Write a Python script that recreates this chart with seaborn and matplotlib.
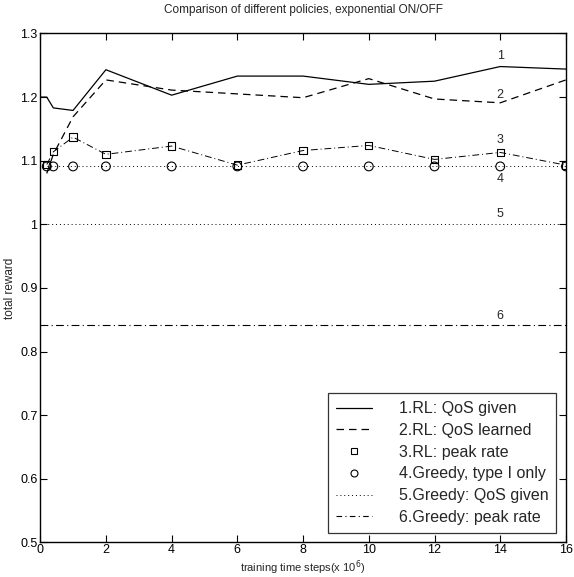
import numpy as np
import pandas as pd
import seaborn as sns
import matplotlib.pyplot as plt
from matplotlib.lines import Line2D

# training steps (x 10^6)
steps = [0.2, 0.4, 1, 2, 4, 6, 8, 10, 12, 14, 16]
steps_rl1 = [0, 0.2, 0.4, 1, 2, 4, 6, 8, 10, 12, 14, 16]

rl_qos_given = [1.200, 1.200, 1.183, 1.179, 1.243, 1.203, 1.233, 1.233, 1.220, 1.225, 1.248, 1.244]
rl_qos_learned = [1.080, 1.110, 1.169, 1.227, 1.211, 1.205, 1.199, 1.229, 1.197, 1.191, 1.227]
rl_peak_rate = [1.094, 1.114, 1.137, 1.110, 1.123, 1.093, 1.116, 1.124, 1.102, 1.113, 1.093]
greedy_type1 = [1.091] * len(steps)
greedy_qos_given = 1.0
greedy_peak_rate = 0.842

x_range = [0, 16]
labels = ["1.RL: QoS given", "2.RL: QoS learned", "3.RL: peak rate",
          "4.Greedy, type I only", "5.Greedy: QoS given", "6.Greedy: peak rate"]
curve_tags = ["1", "2", "3", "4", "5", "6"]
tag_y = [1.265, 1.203, 1.132, 1.072, 1.016, 0.856]

sns.set_style("ticks")
plt.rcParams['font.family'] = ['Liberation Sans', 'DejaVu Sans']

fig = plt.figure(figsize=(5.74, 5.77), dpi=100)
ax = fig.add_axes([0.070, 0.060, 0.916, 0.882])

lw = 0.9
# curves
sns.lineplot(x=steps_rl1, y=rl_qos_given, color='k', lw=lw, ax=ax)
sns.lineplot(x=steps, y=rl_qos_learned, color='k', lw=lw, ax=ax, linestyle=(0, (6, 4)))
sns.lineplot(x=steps, y=rl_peak_rate, color='k', lw=0.7, ax=ax, linestyle=(0, (7, 3, 1, 3)))
sns.lineplot(x=steps, y=greedy_type1, color='k', lw=0.7, ax=ax, linestyle=(0, (1, 3)))
sns.lineplot(x=x_range, y=[greedy_qos_given] * 2, color='k', lw=0.7, ax=ax, linestyle=(0, (1, 3)))
sns.lineplot(x=x_range, y=[greedy_peak_rate] * 2, color='k', lw=0.8, ax=ax, linestyle=(0, (7, 3, 1, 3)))

# markers
sns.scatterplot(x=steps, y=rl_peak_rate, marker='s', s=28, facecolor='none',
                edgecolor='k', linewidth=0.8, ax=ax, zorder=3)
sns.scatterplot(x=steps, y=greedy_type1, marker='o', s=40, facecolor='none',
                edgecolor='k', linewidth=0.8, ax=ax, zorder=3)

for t, ty in zip(curve_tags, tag_y):
    ax.text(14, ty, t, ha='center', va='center', fontsize=9)

ax.set_xlim(0, 16)
ax.set_ylim(0.5, 1.3)
ax.set_xticks(np.arange(0, 17, 2))
ax.set_yticks(np.arange(0.5, 1.31, 0.1))
ax.set_xticklabels([str(v) for v in range(0, 17, 2)])
ax.set_yticklabels(["0.5", "0.6", "0.7", "0.8", "0.9", "1", "1.1", "1.2", "1.3"])
ax.tick_params(direction='in', top=True, right=True, length=5, width=0.8,
               labelsize=9, pad=2, colors='k')
ax.tick_params(axis='x', pad=1.5)
for s in ax.spines.values():
    s.set_linewidth(1.0)
    s.set_color('k')

ax.set_title("Comparison of different policies, exponential ON/OFF", fontsize=8.5, pad=15)
ax.set_xlabel("training time steps(x 10$^6$)", fontsize=8)
ax.xaxis.set_label_coords(0.5, -0.031)
ax.set_ylabel("total reward", fontsize=8.5, labelpad=3)

handles = [
    Line2D([], [], color='k', lw=lw),
    Line2D([], [], color='k', lw=lw, linestyle=(0, (6, 4))),
    Line2D([], [], color='k', marker='s', ms=4.5, mfc='none', mew=0.8, linestyle='none'),
    Line2D([], [], color='k', marker='o', ms=5, mfc='none', mew=0.8, linestyle='none'),
    Line2D([], [], color='k', lw=0.7, linestyle=(0, (1, 3))),
    Line2D([], [], color='k', lw=0.8, linestyle=(0, (5, 3, 1, 3))),
]
leg = ax.legend(handles, labels, loc='lower right', fontsize=11.5, frameon=True,
                fancybox=False, edgecolor='k', handlelength=2.2, handletextpad=1.7,
                labelspacing=0.42, borderpad=0.5, borderaxespad=0.6)
leg.get_frame().set_linewidth(0.9)

fig.savefig("out.png", dpi=100)
